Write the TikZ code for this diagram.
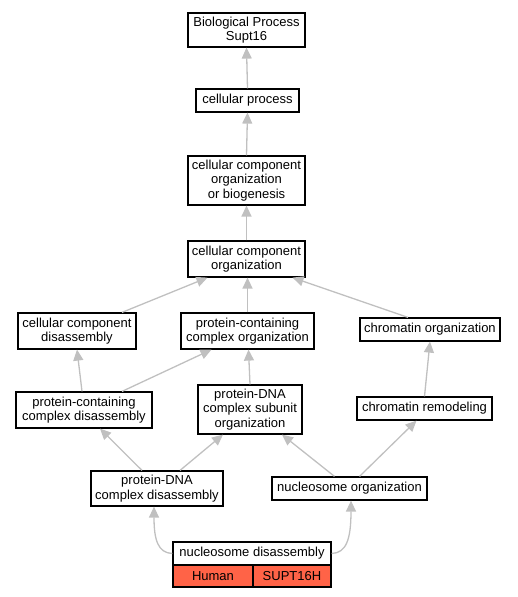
\documentclass[tikz,border=0pt]{standalone}
\usepackage{fontspec}
\setmainfont{Liberation Sans}
\usetikzlibrary{arrows.meta,calc}
\definecolor{edgegray}{RGB}{192,192,192}
\definecolor{tomatored}{RGB}{255,99,71}
\begin{document}
\begin{tikzpicture}[x=1pt,y=-1pt,
  box/.style={draw=black, line width=1.2pt, fill=white, align=center, inner sep=0pt,
    font=\fontsize{13}{14.5}\selectfont},
  sz/.style 2 args={minimum width=#1pt, minimum height=#2pt},
  edge/.style={draw=edgegray, line width=1.3pt, -{Triangle[length=11pt,width=10pt]}}]
\useasboundingbox (0,0) rectangle (517,597);
\node[box,sz={117}{34}] (bp) at (246.5,30) {Biological Process\\Supt16};
\node[box,sz={103}{23}] (cp) at (247.5,100.5) {cellular process};
\node[box,sz={117}{49}] (ccoob) at (246.5,180.5) {cellular component\\organization\\or biogenesis};
\node[box,sz={117}{36}] (cco) at (246.5,259) {cellular component\\organization};
\node[box,sz={118}{36}] (ccd) at (77,331) {cellular component\\disassembly};
\node[box,sz={133}{36}] (pcco) at (247.5,331) {protein-containing\\complex organization};
\node[box,sz={140}{23}] (chrorg) at (430,329.5) {chromatin organization};
\node[box,sz={136}{36}] (pccd) at (84,410) {protein-containing\\complex disassembly};
\node[box,sz={104}{49}] (pdcsu) at (250,409.5) {protein-DNA\\complex subunit\\organization};
\node[box,sz={135}{23}] (chrrem) at (424.5,408.5) {chromatin remodeling};
\node[box,sz={132}{35}] (pdcd) at (157,488.5) {protein-DNA\\complex disassembly};
\node[box,sz={155}{23}] (nucorg) at (349.5,488.5) {nucleosome organization};
\node[box,sz={158}{23}] (nucdis) at (252,553.5) {nucleosome disassembly};
\node[box,sz={80}{22},fill=tomatored] (human) at (213,576) {Human};
\node[box,sz={78}{22},fill=tomatored] (gene) at (292,576) {SUPT16H};

\draw[edge] (cp.north) -- (bp.south);
\draw[edge] (ccoob.north) -- (cp.south);
\draw[edge] (cco.north) -- (ccoob.south);
\draw[edge] ($(ccd.north)+(45,0)$) -- ($(cco.south)+(-39,0)$);
\draw[edge] (pcco.north) -- ($(cco.south)+(1,0)$);
\draw[edge] ($(chrorg.north)+(-22,0)$) -- ($(cco.south)+(46,0)$);
\draw[edge] ($(pccd.north)+(-2,0)$) -- (ccd.south);
\draw[edge] ($(pccd.north)+(38,0)$) -- ($(pcco.south)+(-36,0)$);
\draw[edge] (pdcsu.north) -- ($(pcco.south)+(1,0)$);
\draw[edge] (chrrem.north) -- (chrorg.south);
\draw[edge] ($(pdcd.north)+(-15,0)$) -- ($(pccd.south)+(16,0)$);
\draw[edge] ($(pdcd.north)+(23,0)$) -- ($(pdcsu.south)+(-27,0)$);
\draw[edge] ($(nucorg.north)+(-15,0)$) -- ($(pdcsu.south)+(32,0)$);
\draw[edge] ($(nucorg.north)+(10,0)$) -- ($(chrrem.south)+(-8,0)$);
\draw[edge] (nucdis.west) .. controls (158,553) and (154,540) .. (pdcd.south -| 154,0);
\draw[edge] (nucdis.east) .. controls (346,553) and (351,540) .. (nucorg.south -| 351,0);
\end{tikzpicture}
\end{document}
